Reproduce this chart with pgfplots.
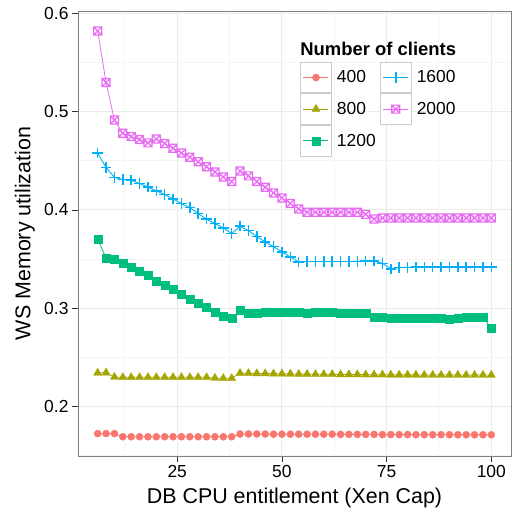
\documentclass[border=0pt]{standalone}
\usepackage{pgfplots}
\pgfplotsset{compat=1.18}
\usepackage{pgfplotstable}
\usepackage{fontspec}
\setmainfont{Liberation Sans}

\definecolor{colA}{HTML}{F8766D}
\definecolor{colB}{HTML}{A3A500}
\definecolor{colC}{HTML}{00BF7D}
\definecolor{colD}{HTML}{00B0F6}
\definecolor{colE}{HTML}{E76BF3}
\definecolor{gridmajor}{HTML}{EBEBEB}
\definecolor{gridminor}{HTML}{F5F5F5}
\definecolor{panelborder}{HTML}{7F7F7F}
\definecolor{keyborder}{HTML}{CCCCCC}

% square with a cross through it
\pgfdeclareplotmark{boxtimes}{%
  \pgfpathrectangle{\pgfpoint{-\pgfplotmarksize}{-\pgfplotmarksize}}%
                   {\pgfpoint{2\pgfplotmarksize}{2\pgfplotmarksize}}%
  \pgfpathmoveto{\pgfpoint{-\pgfplotmarksize}{-\pgfplotmarksize}}%
  \pgfpathlineto{\pgfpoint{\pgfplotmarksize}{\pgfplotmarksize}}%
  \pgfpathmoveto{\pgfpoint{-\pgfplotmarksize}{\pgfplotmarksize}}%
  \pgfpathlineto{\pgfpoint{\pgfplotmarksize}{-\pgfplotmarksize}}%
  \pgfusepathqstroke}
% plain upright cross
\pgfdeclareplotmark{plusmark}{%
  \pgfpathmoveto{\pgfpoint{-\pgfplotmarksize}{0pt}}%
  \pgfpathlineto{\pgfpoint{\pgfplotmarksize}{0pt}}%
  \pgfpathmoveto{\pgfpoint{0pt}{-\pgfplotmarksize}}%
  \pgfpathlineto{\pgfpoint{0pt}{\pgfplotmarksize}}%
  \pgfusepathqstroke}

% WS memory utilization per DB CPU cap, one column per client count
\pgfplotstableread{
x    c400   c800   c1200  c1600  c2000
6    0.1722 0.2340 0.3702 0.4577 0.5823
8    0.1722 0.2342 0.3511 0.4433 0.5297
10   0.1722 0.2298 0.3498 0.4331 0.4915
12   0.1690 0.2295 0.3460 0.4309 0.4781
14   0.1690 0.2295 0.3420 0.4302 0.4748
16   0.1690 0.2295 0.3376 0.4269 0.4717
18   0.1690 0.2295 0.3335 0.4234 0.4683
20   0.1690 0.2295 0.3277 0.4194 0.4723
22   0.1690 0.2295 0.3233 0.4157 0.4676
24   0.1690 0.2295 0.3192 0.4112 0.4628
26   0.1690 0.2295 0.3142 0.4065 0.4580
28   0.1690 0.2295 0.3091 0.4024 0.4537
30   0.1690 0.2295 0.3053 0.3963 0.4490
32   0.1690 0.2295 0.3006 0.3905 0.4440
34   0.1690 0.2288 0.2961 0.3862 0.4386
36   0.1690 0.2285 0.2917 0.3816 0.4336
38   0.1690 0.2285 0.2897 0.3760 0.4289
40   0.1718 0.2338 0.2976 0.3834 0.4396
42   0.1718 0.2336 0.2945 0.3790 0.4347
44   0.1718 0.2334 0.2951 0.3730 0.4289
46   0.1718 0.2334 0.2961 0.3674 0.4231
48   0.1716 0.2332 0.2961 0.3627 0.4173
50   0.1716 0.2332 0.2961 0.3572 0.4122
52   0.1716 0.2330 0.2961 0.3521 0.4066
54   0.1716 0.2328 0.2961 0.3470 0.4010
56   0.1716 0.2328 0.2950 0.3475 0.3977
58   0.1716 0.2326 0.2961 0.3475 0.3977
60   0.1716 0.2326 0.2961 0.3475 0.3977
62   0.1716 0.2326 0.2961 0.3475 0.3977
64   0.1714 0.2324 0.2951 0.3475 0.3977
66   0.1714 0.2324 0.2951 0.3475 0.3977
68   0.1714 0.2324 0.2951 0.3475 0.3977
70   0.1714 0.2322 0.2945 0.3480 0.3955
72   0.1714 0.2322 0.2907 0.3478 0.3907
74   0.1712 0.2322 0.2907 0.3456 0.3918
76   0.1712 0.2320 0.2897 0.3400 0.3918
78   0.1712 0.2320 0.2897 0.3413 0.3918
80   0.1712 0.2320 0.2897 0.3415 0.3918
82   0.1711 0.2320 0.2897 0.3416 0.3918
84   0.1711 0.2318 0.2897 0.3417 0.3918
86   0.1711 0.2318 0.2897 0.3418 0.3918
88   0.1711 0.2318 0.2897 0.3419 0.3918
90   0.1711 0.2318 0.2884 0.3420 0.3918
92   0.1710 0.2318 0.2897 0.3420 0.3918
94   0.1710 0.2318 0.2907 0.3420 0.3918
96   0.1710 0.2318 0.2907 0.3420 0.3918
98   0.1710 0.2318 0.2907 0.3420 0.3918
100  0.1710 0.2318 0.2798 0.3420 0.3918
}\wsmem

\pgfplotsset{
  s400/.style={color=colA, line width=0.8bp, mark=*, mark size=3.6bp,
    mark options={solid, fill=colA, draw=colA, line width=0.3bp}},
  s800/.style={color=colB, line width=0.8bp, mark=triangle*, mark size=4.8bp,
    mark options={solid, fill=colB, draw=colB, line width=0.3bp}},
  s1200/.style={color=colC, line width=0.8bp, mark=square*, mark size=4bp,
    mark options={solid, fill=colC, draw=colC, line width=0.3bp}},
  s1600/.style={color=colD, line width=0.9bp, mark=plusmark, mark size=5.2bp,
    mark options={solid, draw=colD, fill=colD, line width=1.6bp}},
  s2000/.style={color=colE, line width=0.8bp, mark=boxtimes, mark size=4bp,
    mark options={solid, draw=colE, fill=none, line width=1.2bp}},
}

\begin{document}
\begin{tikzpicture}
\begin{axis}[
  scale only axis,
  width=433bp, height=445bp,
  xmin=1.3, xmax=104.7,
  ymin=0.1494, ymax=0.6026,
  xtick={25,50,75,100},
  ytick={0.2,0.3,0.4,0.5,0.6},
  minor xtick={12.5,37.5,62.5,87.5},
  minor ytick={0.15,0.25,0.35,0.45,0.55},
  grid=both,
  major grid style={color=gridmajor, line width=1bp},
  minor grid style={color=gridminor, line width=1bp},
  axis line style={color=panelborder, line width=0.8bp},
  tick align=outside,
  xtick pos=left, ytick pos=left,
  major tick length=6bp, minor tick length=0bp,
  major tick style={color=black!80, line width=0.8bp},
  /pgf/number format/assume math mode=true,
  tick label style={font=\fontsize{17.5}{20}\selectfont, color=black},
  yticklabel style={/pgf/number format/fixed, /pgf/number format/fixed zerofill,
    /pgf/number format/precision=1},
  xticklabel style={/pgf/number format/fixed},
  xlabel={DB CPU entitlement (Xen Cap)},
  ylabel={WS Memory utilization},
  label style={font=\fontsize{21.5}{24}\selectfont},
  xlabel style={at={(axis description cs:0.5,-0.0933)}, anchor=center},
  ylabel style={at={(axis description cs:-0.1225,0.5)}, anchor=center},
  legend cell align=left,
  legend columns=2,
  legend style={at={(0.5127,0.886)}, anchor=north west, draw=none, fill=none,
    inner sep=0pt, outer sep=0pt, row sep=0pt, column sep=0pt,
    font=\fontsize{17.5}{20}\selectfont,
    nodes={inner sep=0pt},
    /tikz/every odd column/.append style={column sep=5bp},
    /tikz/every even column/.append style={column sep=4bp}},
  legend image code/.code={%
    \draw[draw=keyborder, line width=1bp, fill=white, solid]
      (0bp,-15.3bp) rectangle (31bp,15.3bp);
    \draw[mark repeat=2, mark phase=2, #1]
      plot coordinates {(3bp,0bp) (15.5bp,0bp) (28bp,0bp)};
  },
]
\addplot[s400, forget plot] table[x=x, y=c400] {\wsmem};
\addplot[s800, forget plot] table[x=x, y=c800] {\wsmem};
\addplot[s1200, forget plot] table[x=x, y=c1200] {\wsmem};
\addplot[s1600, forget plot] table[x=x, y=c1600] {\wsmem};
\addplot[s2000, forget plot] table[x=x, y=c2000] {\wsmem};

% legend entries, filled row by row so the columns read 400/800/1200 and 1600/2000
\addlegendimage{s400}\addlegendentry{400}
\addlegendimage{s1600}\addlegendentry{1600}
\addlegendimage{s800}\addlegendentry{800}
\addlegendimage{s2000}\addlegendentry{2000}
\addlegendimage{s1200}\addlegendentry{1200}

\node[anchor=base west, inner sep=0pt, font=\bfseries\fontsize{18.5}{20}\selectfont]
  at (axis cs:54.36,0.5575) {Number of clients};
\end{axis}
\pgfresetboundingbox
\path ([shift={(-78bp,-56bp)}]current axis.south west)
  rectangle ([shift={(3bp,11bp)}]current axis.north east);
\end{tikzpicture}
\end{document}
